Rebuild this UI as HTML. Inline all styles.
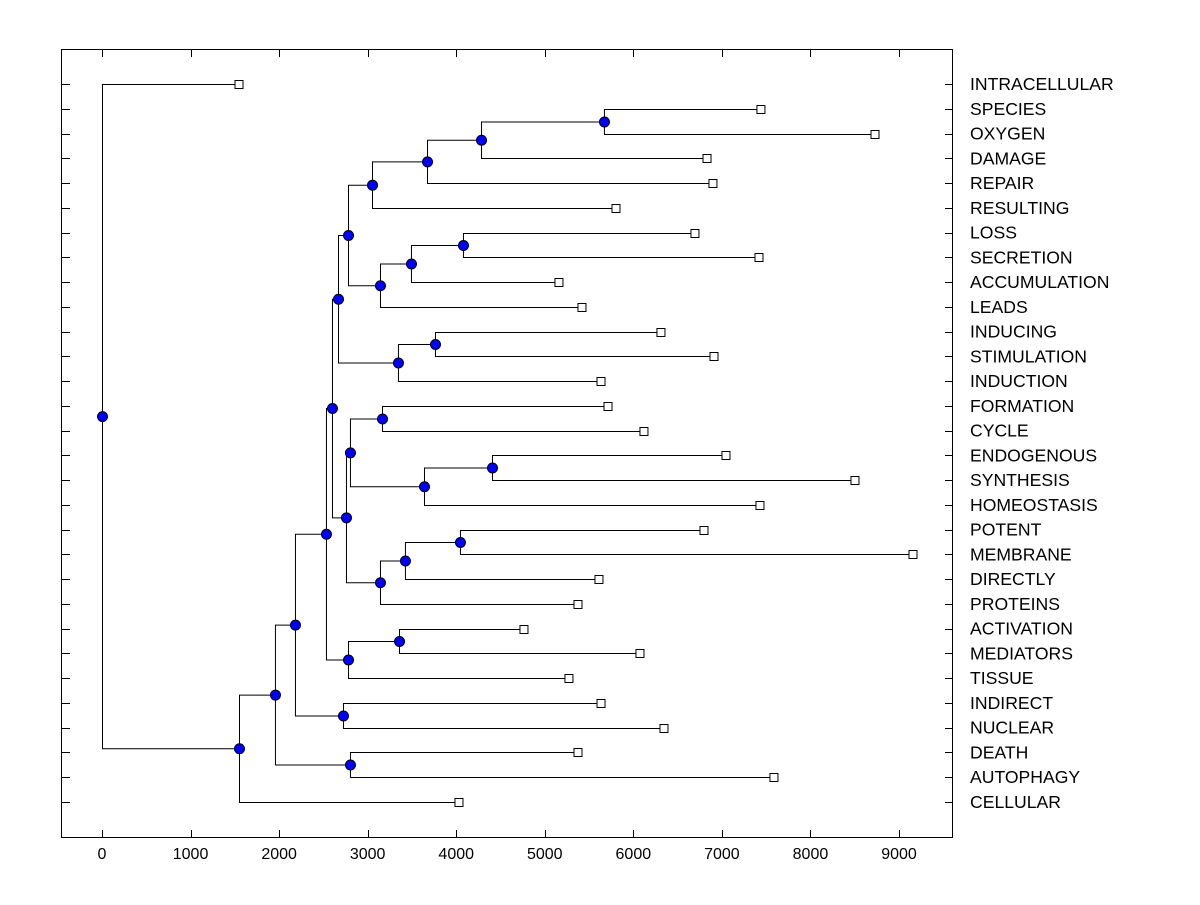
<!DOCTYPE html>
<html><head><meta charset="utf-8"><style>
body{margin:0;background:#fff}
svg text{font-family:"Liberation Sans",Arial,sans-serif;font-size:16px;fill:#000}
svg text.leaf{font-size:17.6px}
</style></head><body>
<svg id="chart" width="1200" height="900" xmlns="http://www.w3.org/2000/svg">
<rect x="61.5" y="49.5" width="891" height="788" fill="none" stroke="#000" stroke-width="1"/>
<g id="g"></g>
</svg>
<script>
const leafNames=["INTRACELLULAR","SPECIES","OXYGEN","DAMAGE","REPAIR","RESULTING","LOSS","SECRETION","ACCUMULATION","LEADS","INDUCING","STIMULATION","INDUCTION","FORMATION","CYCLE","ENDOGENOUS","SYNTHESIS","HOMEOSTASIS","POTENT","MEMBRANE","DIRECTLY","PROTEINS","ACTIVATION","MEDIATORS","TISSUE","INDIRECT","NUCLEAR","DEATH","AUTOPHAGY","CELLULAR"];
const leafValues=[1547,7441,8729,6832,6899,5804,6696,7419,5160,5420,6312,6911,5635,5714,6120,7046,8503,7430,6798,9158,5612,5375,4765,6075,5273,5635,6346,5375,7588,4031];
const nodeNames=["root","A","B","C","D","E","F","G","H","I","J","K","L","M","N","O","P","Q","R","S","T","U","V","W","X","Y","Z","AA","BB"];
const nodeValues=[0,1547,1953,2179,2800,2529,2721,2597,2778,3354,2665,2755,2800,3139,3162,3636,4404,3421,4042,2778,3342,3760,3049,3139,3489,4076,3670,4280,5668];
const nodeLeft=["INTRACELLULAR","B","C","E","DEATH","G","INDIRECT","J","I","ACTIVATION","S","L","N","Q","FORMATION","P","ENDOGENOUS","R","POTENT","V","U","INDUCING","Z","X","Y","LOSS","AA","BB","SPECIES"];
const nodeRight=["A","CELLULAR","D","F","AUTOPHAGY","H","NUCLEAR","K","TISSUE","MEDIATORS","T","M","O","PROTEINS","CYCLE","HOMEOSTASIS","SYNTHESIS","DIRECTLY","MEMBRANE","W","INDUCTION","STIMULATION","RESULTING","LEADS","ACCUMULATION","SECRETION","REPAIR","DAMAGE","OXYGEN"];
const xTicks=[0,1000,2000,3000,4000,5000,6000,7000,8000,9000];

const NS="http://www.w3.org/2000/svg",g=document.getElementById('g');
const X=v=>102+v*797/9000;
const Y=i=>84+i*(802-84)/(leafNames.length-1);
function mk(t,a){const e=document.createElementNS(NS,t);for(const k in a)e.setAttribute(k,a[k]);g.appendChild(e);return e;}
leafNames.forEach((n,i)=>{
  const y=Math.round(Y(i))+0.5;
  let t=mk('line',{x1:62,x2:70,y1:y,y2:y,stroke:'#000'});
  
  
  t=mk('line',{x1:945,x2:953,y1:y,y2:y,stroke:'#000'});
  
  
  const l=mk('text',{x:970,y:Y(i)+6,'class':'leaf'});l.textContent=n;
  
  
});
xTicks.forEach(v=>{
  const x=Math.round(X(v))+0.5;
  let t=mk('line',{x1:x,x2:x,y1:49,y2:57,stroke:'#000'});
  
  
  t=mk('line',{x1:x,x2:x,y1:830,y2:838,stroke:'#000'});
  
  
  const l=mk('text',{x:X(v),y:859,'text-anchor':'middle'});l.textContent=v;
  
  
});
const pos={};
leafNames.forEach((n,i)=>pos[n]={x:X(leafValues[i]),y:Math.round(Y(i))});
function P(n){
  if(pos[n])return pos[n];
  const i=nodeNames.indexOf(n);
  const a=P(nodeLeft[i]),b=P(nodeRight[i]);
  pos[n]={x:X(nodeValues[i]),y:(a.y+b.y)/2,a:a,b:b};
  return pos[n];
}
nodeNames.forEach(n=>P(n));
nodeNames.forEach(n=>{
  const p=pos[n];
  let e=mk('polyline',{points:`${p.a.x},${p.a.y+.5} ${p.x+.5},${p.a.y+.5} ${p.x+.5},${p.b.y+.5} ${p.b.x},${p.b.y+.5}`,fill:'none',stroke:'#000'});
  
  
});
leafNames.forEach(n=>{
  const p=pos[n];
  const e=mk('rect',{x:p.x-4,y:p.y-3.5,width:8,height:8,fill:'#fff',stroke:'#000'});
  
  
});
nodeNames.forEach(n=>{
  const p=pos[n];
  const e=mk('circle',{cx:p.x+.5,cy:p.y+.5,r:5,fill:'#0000ff',stroke:'#000'});
  
  
});
</script>
</body></html>
